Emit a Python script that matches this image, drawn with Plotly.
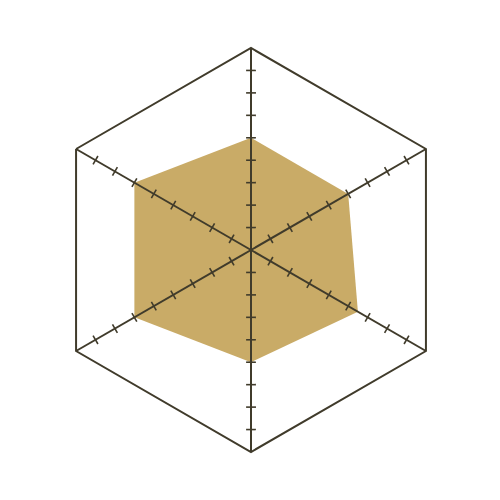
import plotly.graph_objects as go

# six unlabeled spokes, clockwise from the top
categories = ["A", "B", "C", "D", "E", "F"]
values = [5, 5, 5.5, 5, 6, 6]
tick_values = [1, 2, 3, 4, 5, 6, 7, 8]
r_max = 9

line_color = "#403b2b"
fill_color = "#c9ab67"

fig = go.Figure()

fig.add_trace(go.Scatterpolar(
    r=values + values[:1],
    theta=categories + categories[:1],
    mode="lines",
    fill="toself",
    fillcolor=fill_color,
    line=dict(color=fill_color, width=0),
    hoverinfo="skip",
    subplot="polar",
))

# small cross ticks on every spoke, turned perpendicular to the spoke
spoke_angles = [90 - 60 * i for i in range(len(categories))]
tick_r, tick_theta, tick_rot = [], [], []
for cat, ang in zip(categories, spoke_angles):
    for t in tick_values:
        tick_r.append(t)
        tick_theta.append(cat)
        tick_rot.append(90 - ang + 90)

fig.add_trace(go.Scatterpolar(
    r=tick_r,
    theta=tick_theta,
    mode="markers",
    marker=dict(symbol="line-ns", size=7, angle=tick_rot,
                line=dict(color=line_color, width=1.6)),
    hoverinfo="skip",
    subplot="polar2",
))

radial = dict(range=[0, r_max], showgrid=False, showline=False,
              showticklabels=False, ticks="")
angular_plain = dict(direction="clockwise", rotation=90, showgrid=False,
                     showline=False, showticklabels=False, ticks="",
                     categoryarray=categories, categoryorder="array")
angular_grid = dict(direction="clockwise", rotation=90,
                    showgrid=True, gridcolor=line_color, gridwidth=2,
                    showline=True, linecolor=line_color, linewidth=2,
                    showticklabels=False, ticks="",
                    categoryarray=categories, categoryorder="array")
full = dict(x=[0, 1], y=[0, 1])

fig.update_layout(
    width=500,
    height=500,
    margin=dict(l=41, r=55, t=40, b=56),
    paper_bgcolor="white",
    showlegend=False,
    polar=dict(domain=full, bgcolor="white", gridshape="linear",
               radialaxis=radial, angularaxis=angular_plain),
    polar2=dict(domain=full, bgcolor="rgba(0,0,0,0)", gridshape="linear",
                radialaxis=radial, angularaxis=angular_grid),
)

fig.write_html("out.html")
